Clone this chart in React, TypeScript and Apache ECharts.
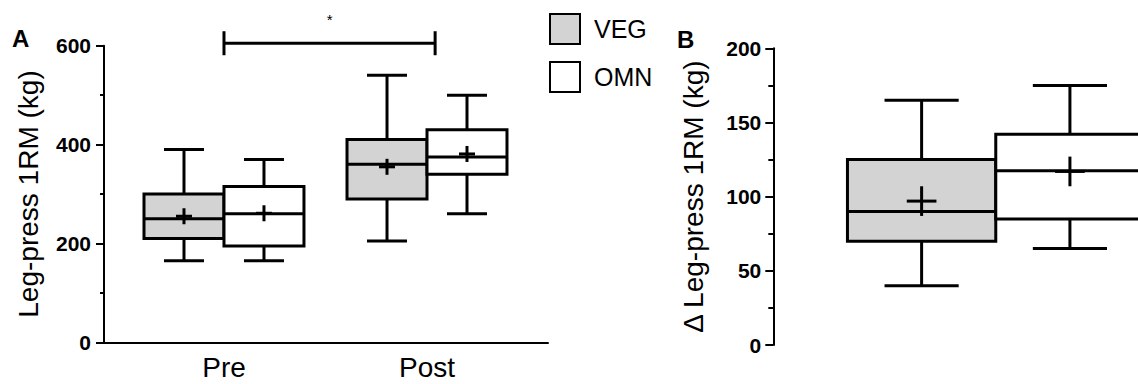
import React, { useEffect, useRef } from "react";
import * as echarts from "echarts";

// ---- data ----
const groupsA = ["Pre", "Post"];
// [min, q1, median, q3, max, mean]
const vegA = [
  [165, 210, 250, 300, 390, 255],
  [205, 290, 360, 410, 540, 355],
];
const omnA = [
  [165, 195, 260, 315, 370, 261],
  [260, 340, 375, 430, 500, 381],
];
const vegB = [40, 70, 90, 125, 165, 97];
const omnB = [65, 85, 117.5, 142, 175, 117];
const yTicksA = [0, 200, 400, 600];
const yTicksB = [0, 50, 100, 150, 200];
const seriesNames = ["VEG", "OMN"];
const sigLabel = "*";

const FONT = "'Liberation Sans', Arial, Helvetica, sans-serif";
const VEG_FILL = "#d3d3d3";
const OMN_FILL = "#ffffff";

function makeBoxRender(widthUnits: number) {
  return (params: any, api: any) => {
    const x = api.value(0);
    const y = (i: number) => api.coord([x, api.value(i)])[1];
    const cx = api.coord([x, 0])[0];
    const yMin = y(1), yQ1 = y(2), yMed = y(3), yQ3 = y(4), yMax = y(5), yMean = y(6);
    const w = api.size([widthUnits, 0])[0];
    const cap = w / 4;
    const plus = w * 0.1;
    const fill = api.visual("color");
    const ls = { stroke: "#000", lineWidth: 3 };
    return {
      type: "group",
      children: [
        { type: "line", shape: { x1: cx, y1: yMax, x2: cx, y2: yQ3 }, style: ls },
        { type: "line", shape: { x1: cx, y1: yQ1, x2: cx, y2: yMin }, style: ls },
        { type: "line", shape: { x1: cx - cap, y1: yMax, x2: cx + cap, y2: yMax }, style: ls },
        { type: "line", shape: { x1: cx - cap, y1: yMin, x2: cx + cap, y2: yMin }, style: ls },
        {
          type: "rect",
          shape: { x: cx - w / 2, y: yQ3, width: w, height: yQ1 - yQ3 },
          style: { fill, stroke: "#000", lineWidth: 3 },
        },
        { type: "line", shape: { x1: cx - w / 2, y1: yMed, x2: cx + w / 2, y2: yMed }, style: ls },
        { type: "line", shape: { x1: cx - plus, y1: yMean, x2: cx + plus, y2: yMean }, style: ls },
        { type: "line", shape: { x1: cx, y1: yMean - plus, x2: cx, y2: yMean + plus }, style: ls },
      ],
    };
  };
}

export default function App() {
  const ref = useRef<HTMLDivElement>(null);
  useEffect(() => {
    document.body.style.margin = "0";
    const chart = echarts.init(ref.current!, null, { renderer: "svg" });

    const boxWA = 0.394;
    const boxWB = 1;
    const dataVegA = vegA.map((s, i) => [i - boxWA / 2, ...s]);
    const dataOmnA = omnA.map((s, i) => [i + boxWA / 2, ...s]);
    const dataVegB = [[0, ...vegB]];
    const dataOmnB = [[1, ...omnB]];

    const axisLine = { show: true, onZero: false, lineStyle: { color: "#000", width: 2 } };
    const tickLabel = { color: "#000", fontSize: 21, fontWeight: "bold", fontFamily: FONT };
    const nameStyle = { color: "#000", fontSize: 28, fontFamily: FONT };

    const option: any = {
      animation: false,
      grid: [
        { left: 104, top: 45.7, width: 444, height: 296.6 },
        { left: 773.3, top: 48.3, width: 364.7, height: 296.7 },
      ],
      legend: {
        orient: "vertical",
        left: 549,
        top: 13,
        padding: 0,
        itemWidth: 30,
        itemHeight: 30,
        itemGap: 16,
        icon: "rect",
        selectedMode: false,
        textStyle: { color: "#000", fontSize: 25, fontFamily: FONT, padding: [0, 0, 0, 9] },
        data: [
          { name: seriesNames[0], itemStyle: { color: VEG_FILL, borderColor: "#000", borderWidth: 2 } },
          { name: seriesNames[1], itemStyle: { color: OMN_FILL, borderColor: "#000", borderWidth: 2 } },
        ],
      },
      xAxis: [
        {
          type: "value",
          gridIndex: 0,
          min: -0.591,
          max: 1.596,
          axisLine,
          axisTick: { show: false },
          splitLine: { show: false },
          axisLabel: {
            customValues: [0, 1],
            formatter: (v: number) => groupsA[Math.round(v)],
            color: "#000",
            fontSize: 28,
            fontFamily: FONT,
            margin: 11,
          },
        },
        {
          type: "value",
          gridIndex: 1,
          min: -1,
          max: 1.459,
          show: false,
          splitLine: { show: false },
        },
      ],
      yAxis: [
        {
          type: "value",
          gridIndex: 0,
          min: yTicksA[0],
          max: yTicksA[yTicksA.length - 1],
          interval: yTicksA[1] - yTicksA[0],
          axisLine,
          axisTick: { show: true, length: 8, lineStyle: { color: "#000", width: 2 } },
          minorTick: { show: true, splitNumber: 2, length: 4, lineStyle: { color: "#000", width: 2 } },
          splitLine: { show: false },
          minorSplitLine: { show: false },
          axisLabel: { ...tickLabel, margin: 13 },
          name: "Leg-press 1RM (kg)",
          nameLocation: "middle",
          nameGap: 62,
          nameTextStyle: nameStyle,
        },
        {
          type: "value",
          gridIndex: 1,
          min: yTicksB[0],
          max: yTicksB[yTicksB.length - 1],
          interval: yTicksB[1] - yTicksB[0],
          axisLine,
          axisTick: { show: true, length: 8, lineStyle: { color: "#000", width: 2 } },
          minorTick: { show: true, splitNumber: 2, length: 5, lineStyle: { color: "#000", width: 2 } },
          splitLine: { show: false },
          minorSplitLine: { show: false },
          axisLabel: { ...tickLabel, margin: 12 },
          name: "\u0394 Leg-press 1RM (kg)",
          nameLocation: "middle",
          nameGap: 66,
          nameTextStyle: nameStyle,
        },
      ],
      graphic: [
        { type: "text", left: 12, top: 26, style: { text: "A", fontSize: 24, fontWeight: "bold", fontFamily: FONT, fill: "#000" } },
        { type: "text", left: 677, top: 27, style: { text: "B", fontSize: 24, fontWeight: "bold", fontFamily: FONT, fill: "#000" } },
      ],
      series: [
        {
          name: seriesNames[0], type: "custom", xAxisIndex: 0, yAxisIndex: 0,
          renderItem: makeBoxRender(boxWA), itemStyle: { color: VEG_FILL },
          encode: { x: 0, y: [1, 2, 3, 4, 5, 6] }, data: dataVegA, clip: false,
        },
        {
          name: seriesNames[1], type: "custom", xAxisIndex: 0, yAxisIndex: 0,
          renderItem: makeBoxRender(boxWA), itemStyle: { color: OMN_FILL },
          encode: { x: 0, y: [1, 2, 3, 4, 5, 6] }, data: dataOmnA, clip: false,
        },
        {
          name: seriesNames[0], type: "custom", xAxisIndex: 1, yAxisIndex: 1,
          renderItem: makeBoxRender(boxWB), itemStyle: { color: VEG_FILL },
          encode: { x: 0, y: [1, 2, 3, 4, 5, 6] }, data: dataVegB, clip: false,
        },
        {
          name: seriesNames[1], type: "custom", xAxisIndex: 1, yAxisIndex: 1,
          renderItem: makeBoxRender(boxWB), itemStyle: { color: OMN_FILL },
          encode: { x: 0, y: [1, 2, 3, 4, 5, 6] }, data: dataOmnB, clip: false,
        },
        {
          name: "sig", type: "custom", xAxisIndex: 0, yAxisIndex: 0, clip: false,
          data: [[0, 1.04, 605]],
          encode: { x: [0, 1], y: 2 },
          renderItem: (params: any, api: any) => {
            const p1 = api.coord([api.value(0), api.value(2)]);
            const p2 = api.coord([api.value(1), api.value(2)]);
            const ls = { stroke: "#000", lineWidth: 3 };
            return {
              type: "group",
              children: [
                { type: "line", shape: { x1: p1[0], y1: p1[1], x2: p2[0], y2: p2[1] }, style: ls },
                { type: "line", shape: { x1: p1[0], y1: p1[1] - 12, x2: p1[0], y2: p1[1] + 12 }, style: ls },
                { type: "line", shape: { x1: p2[0], y1: p2[1] - 12, x2: p2[0], y2: p2[1] + 12 }, style: ls },
                {
                  type: "text",
                  x: (p1[0] + p2[0]) / 2, y: p1[1] - 24,
                  style: { text: sigLabel, fontSize: 15, fontFamily: FONT, fill: "#000", align: "center", verticalAlign: "middle" },
                },
              ],
            };
          },
        },
      ],
    };
    chart.setOption(option);
    return () => chart.dispose();
  }, []);
  return <div ref={ref} style={{ width: 1138, height: 384 }} />;
}
